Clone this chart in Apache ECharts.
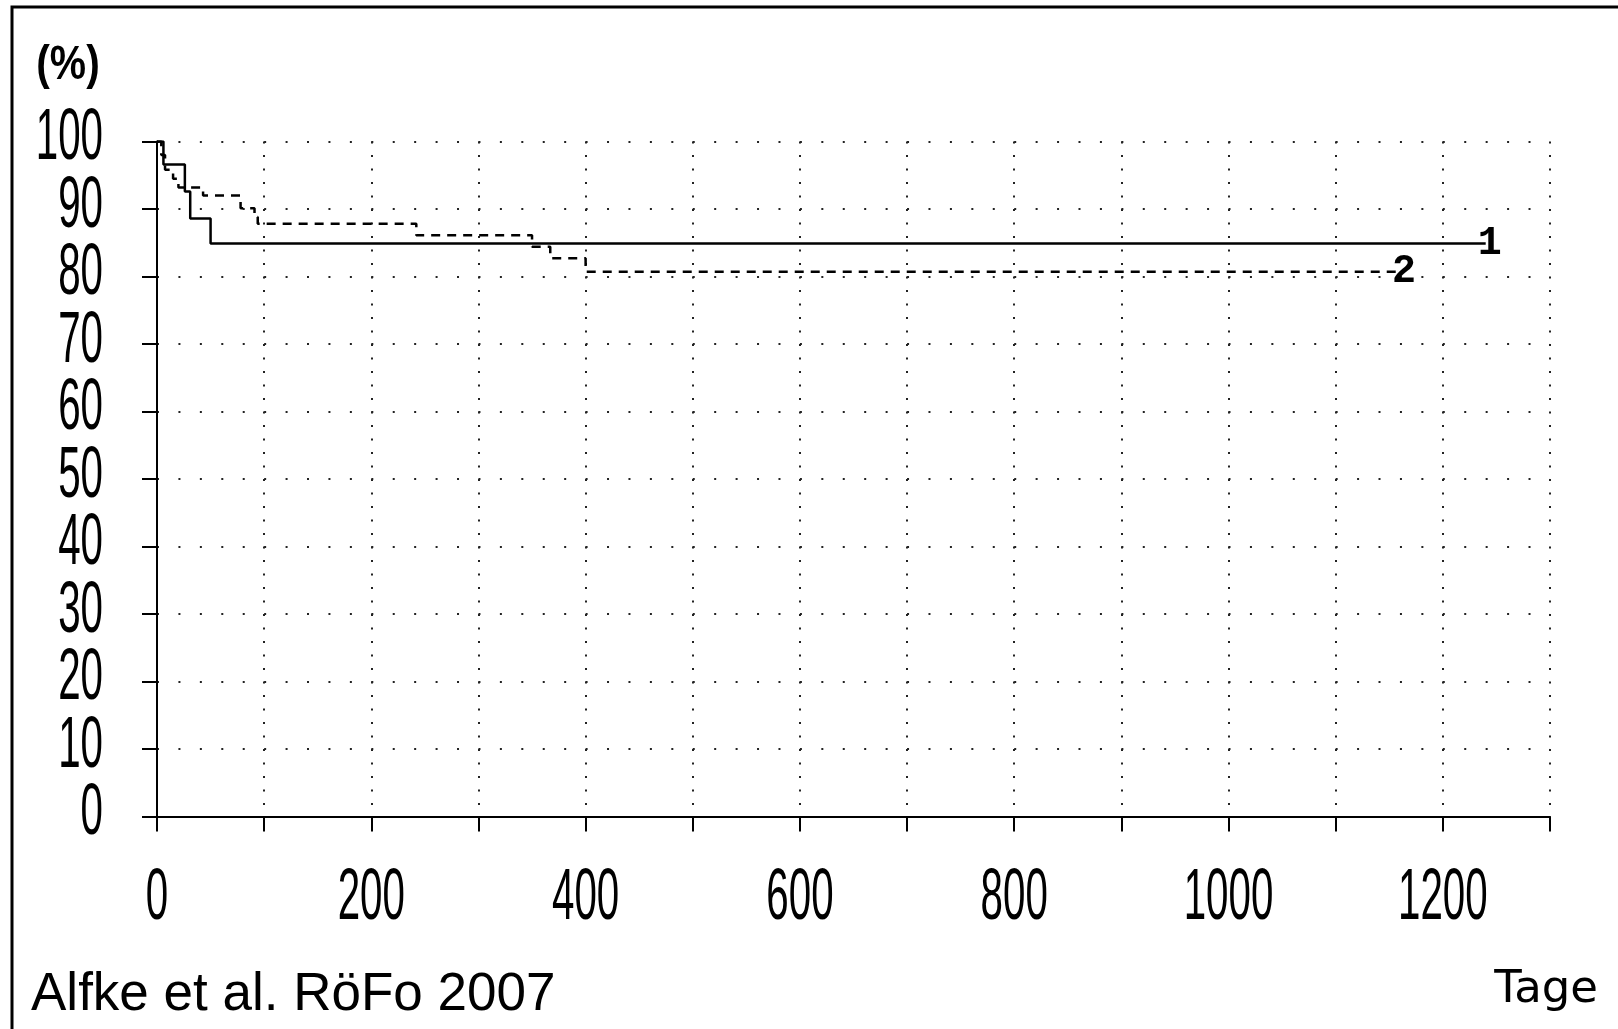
<!DOCTYPE html>
<html>
<head>
<meta charset="utf-8">
<title>Kaplan-Meier</title>
<script src="https://cdn.jsdelivr.net/npm/echarts/dist/echarts.min.js"></script>
<style>
  html, body { margin: 0; padding: 0; background: #fff; }
  #chart { width: 1618px; height: 1029px; }
</style>
</head>
<body>
<div id="chart"></div>
<script>
// Survival curve 1 (solid): event days and survival in %
const group1Days = [0, 6, 26, 31, 50, 1240];
const group1Survival = [100, 96.6, 92.6, 88.6, 84.9, 84.9];

// Survival curve 2 (dashed)
const group2Days = [0, 4, 7.5, 15, 20, 43, 78, 91, 94, 242, 350, 367, 400, 1160];
const group2Survival = [100, 98.0, 95.8, 94.5, 93.2, 92.0, 90.1, 88.8, 87.8, 86.1, 84.4, 82.7, 80.7, 80.7];

const curveLabels = ['1', '2'];

// Axis tick labels
const yTickLabels = ['0', '10', '20', '30', '40', '50', '60', '70', '80', '90', '100'];
const xTickLabels = ['0', '200', '400', '600', '800', '1000', '1200'];

const yAxisTitle = '(%)';
const xAxisTitle = 'Tage';
const sourceNote = 'Alfke et al. RöFo 2007';

const toPairs = (xs, ys) => xs.map((x, i) => [x, ys[i]]);

const chart = echarts.init(document.getElementById('chart'), null, { renderer: 'canvas' });

function endMark(days, vals, text) {
  const n = days.length - 1;
  return {
    symbol: 'circle',
    symbolSize: 1,
    silent: true,
    itemStyle: { color: 'rgba(0,0,0,0)' },
    label: {
      show: true,
      position: 'inside',
      formatter: text,
      offset: [4, 0],
      color: '#000',
      fontFamily: '"Liberation Mono", monospace',
      fontWeight: 'bold',
      fontSize: 40
    },
    data: [{ coord: [days[n], vals[n]] }]
  };
}

const option = {
  animation: false,
  backgroundColor: '#fff',
  grid: { left: 157, top: 141.5, width: 1393, height: 675, containLabel: false },
  xAxis: {
    type: 'value',
    min: 0, max: 1300, interval: 100,
    offset: 15,
    axisLine: { show: true, lineStyle: { color: '#000', width: 2 } },
    axisTick: { show: true, length: 15, lineStyle: { color: '#000', width: 2 } },
    axisLabel: { show: false },
    splitLine: { show: true, lineStyle: { color: '#222', width: 2, type: [2, 11.5] } }
  },
  yAxis: {
    type: 'value',
    min: 0, max: 100, interval: 10,
    offset: 14,
    axisLine: { show: true, lineStyle: { color: '#000', width: 2 } },
    axisTick: { show: true, length: 15, lineStyle: { color: '#000', width: 2 } },
    axisLabel: { show: false },
    splitLine: { show: true, lineStyle: { color: '#222', width: 2, type: [2, 19.43] } }
  },
  series: [
    {
      name: curveLabels[0],
      type: 'line',
      step: 'end',
      symbol: 'none',
      data: toPairs(group1Days, group1Survival),
      lineStyle: { color: '#000', width: 2.5, type: 'solid' },
      z: 3,
      markPoint: endMark(group1Days, group1Survival, curveLabels[0])
    },
    {
      name: curveLabels[1],
      type: 'line',
      step: 'end',
      symbol: 'none',
      data: toPairs(group2Days, group2Survival),
      lineStyle: { color: '#000', width: 2.5, type: [9, 7] },
      z: 3,
      markPoint: endMark(group2Days, group2Survival, curveLabels[1])
    }
  ]
};

chart.setOption(option);

// Tall, condensed tick numerals placed through the axis scales
const digitFont = { fontFamily: '"Liberation Sans", Arial, sans-serif', fontSize: 72, fill: '#000' };
const digitScale = 0.56;
const graphics = [];

yTickLabels.forEach(t => {
  const p = chart.convertToPixel({ gridIndex: 0 }, [0, Number(t)]);
  graphics.push({
    type: 'text', x: p[0] - 54, y: p[1] - 2, scaleX: digitScale, silent: true,
    style: Object.assign({ text: t, align: 'right', verticalAlign: 'middle' }, digitFont)
  });
});

xTickLabels.forEach(t => {
  const p = chart.convertToPixel({ gridIndex: 0 }, [Number(t), 0]);
  graphics.push({
    type: 'text', x: p[0], y: p[1] + 83, scaleX: digitScale, silent: true,
    style: Object.assign({ text: t, align: 'center', verticalAlign: 'middle' }, digitFont)
  });
});

// Titles and source note
graphics.push({
  type: 'text', x: 68, y: 66, scaleX: 0.85, silent: true,
  style: { text: yAxisTitle, fontFamily: '"Liberation Sans", Arial, sans-serif', fontWeight: 'bold', fontSize: 48, fill: '#000', align: 'center', verticalAlign: 'middle' }
});
graphics.push({
  type: 'text', x: 1598, y: 990, silent: true,
  style: { text: xAxisTitle, fontFamily: '"DejaVu Sans", sans-serif', fontSize: 45, fill: '#000', align: 'right', verticalAlign: 'middle' }
});
graphics.push({
  type: 'text', x: 31, y: 995, silent: true,
  style: { text: sourceNote, fontFamily: '"Liberation Sans", Arial, sans-serif', fontSize: 53, fill: '#000', align: 'left', verticalAlign: 'middle' }
});

// Outer frame
graphics.push({
  type: 'rect', silent: true,
  shape: { x: 12, y: 7, width: 1700, height: 1200 },
  style: { fill: 'none', stroke: '#000', lineWidth: 3 }
});

chart.setOption({ graphic: graphics });
</script>
</body>
</html>
